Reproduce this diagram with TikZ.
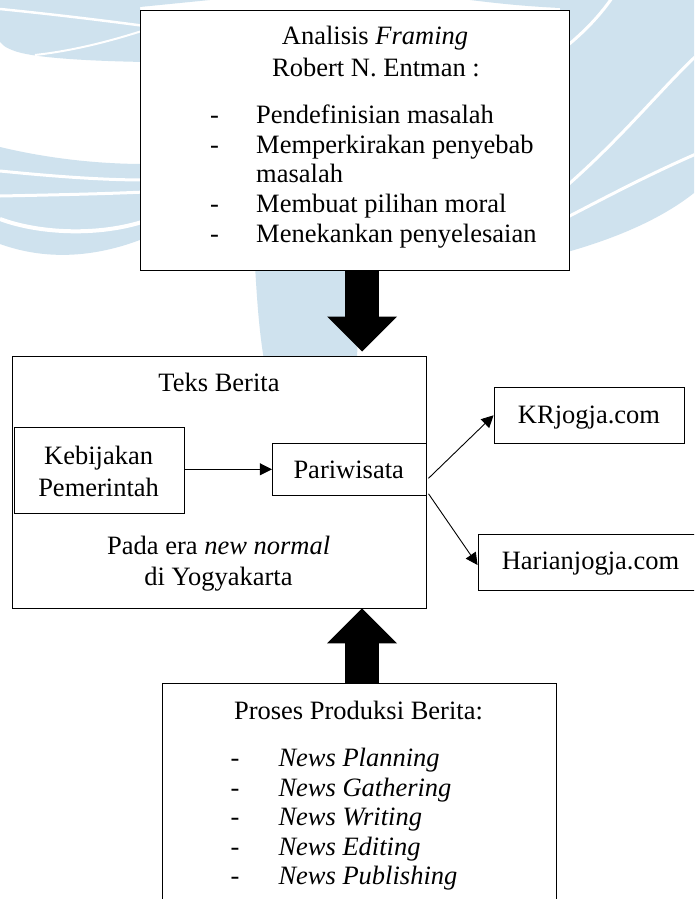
\documentclass[tikz,border=0pt]{standalone}
\usepackage{fontspec}
\setmainfont{Liberation Serif}
\usepackage{tikz}
\usetikzlibrary{arrows.meta}
\usetikzlibrary{positioning}

\definecolor{wmblue}{RGB}{207,226,238}
\newcommand{\wmleft}{%
 \fill[wmblue] (0,0) -- (210,0) .. controls (180,3) and (160,5) .. (140,7) -- (145,62) .. controls (90,61) and (30,58) .. (12,50) .. controls (5,47) .. (0,42) -- cycle;
 \draw[white,line width=2.5pt] (0,9) .. controls (50,14) and (100,20) .. (145,26);
 \draw[white,line width=2pt] (35,55) .. controls (80,50) and (120,38) .. (145,30);
 \fill[wmblue] (0,147) .. controls (50,159) and (100,164) .. (145,164) -- (145,238) .. controls (100,256) and (50,262) .. (0,244) -- cycle;
 \draw[white,line width=3pt] (0,171) .. controls (50,176) and (100,180) .. (145,180);
 \draw[white,line width=3pt] (0,196) .. controls (50,195) and (100,194) .. (145,192);
 \draw[white,line width=4pt] (0,219) .. controls (40,234) and (100,236) .. (145,221);
}
\newcommand{\wmright}{%
 \fill[wmblue] (470,0) -- (694,0) -- (694,193) .. controls (670,212) and (630,235) .. (560,254) -- (560,8) .. controls (520,6) and (495,3) .. (470,0) -- cycle;
 \draw[white,line width=3pt] (612,-2) .. controls (598,18) and (582,34) .. (562,50);
 \draw[white,line width=3pt] (696,56) .. controls (660,90) and (620,140) .. (562,190);
 \draw[white,line width=3pt] (696,154) .. controls (650,174) and (610,195) .. (562,220);
}

\begin{document}
\begin{tikzpicture}[x=1pt,y=-1pt,
 box/.style={draw=black,fill=white,line width=0.9pt,inner sep=0pt},
 txt/.style={inner sep=0pt,anchor=base,font=\fontsize{26.5}{30}\selectfont},
 itm/.style={txt,anchor=base west},
 link/.style={line width=0.9pt,-{Triangle[length=12pt,width=12pt]}},
 blockarrow/.style={line width=34pt,-{Triangle[length=35pt,width=70pt,line width=0pt]}}]
 \useasboundingbox[fill=white] (0,0) rectangle (694,899);
 \clip (0,0) rectangle (694,899);
 \wmleft
 \wmright
 \fill[wmblue] (255,265) .. controls (257,300) and (259,330) .. (264,360) -- (357,360) .. controls (358,330) and (358,300) .. (358,265) -- cycle;

 \node[box,minimum width=429pt,minimum height=260pt] (frame) at (354.5,140) {};
 \node[txt] (an1) at (375,45) {Analisis \textit{Framing}};
 \node[txt] (an2) at (376,76) {Robert N. Entman :};
 \node[txt] (d1) at (214.5,123.5) {-};
 \node[itm] (f1) at (256,123.5) {Pendefinisian masalah};
 \node[txt] (d2) at (214.5,153.2) {-};
 \node[itm] (f2) at (256,153.2) {Memperkirakan penyebab};
 \node[itm] (f2b) at (256,182.9) {masalah};
 \node[txt] (d3) at (214.5,212.6) {-};
 \node[itm] (f3) at (256,212.6) {Membuat pilihan moral};
 \node[txt] (d4) at (214.5,242.3) {-};
 \node[itm] (f4) at (256,242.3) {Menekankan penyelesaian};

 \node[box,minimum width=413.7pt,minimum height=251.5pt] (teks) at (219.2,482.2) {};
 \node[txt] (teksl) at (219,391.7) {Teks Berita};
 \node[box,minimum width=170pt,minimum height=86pt] (keb) at (99.3,470.3) {};
 \node[txt] (keb1) at (98.6,464) {Kebijakan};
 \node[txt] (keb2) at (98.6,496) {Pemerintah};
 \node[box,minimum width=153.7pt,minimum height=52pt] (pari) at (349.2,469.3) {};
 \node[txt] (paril) at (348.7,478.3) {Pariwisata};
 \node[txt] (era1) at (218.7,554) {Pada era \textit{new normal}};
 \node[txt] (era2) at (218.4,585) {di Yogyakarta};

 \node[box,minimum width=190pt,minimum height=56pt] (kr) at (589,415.3) {};
 \node[txt] (krl) at (589,423) {KRjogja.com};
 \node[box,minimum width=225pt,minimum height=56pt] (harian) at (590.5,562) {};
 \node[txt] (harianl) at (590.5,569) {Harianjogja.com};

 \node[box,minimum width=393.7pt,minimum height=240pt] (proses) at (359.2,803.5) {};
 \node[txt] (pp) at (358.5,719) {Proses Produksi Berita:};
 \node[txt] (e1) at (235,766.5) {-};
 \node[itm] (n1) at (278.3,766.5) {\textit{News Planning}};
 \node[txt] (e2) at (235,796) {-};
 \node[itm] (n2) at (278.3,796) {\textit{News Gathering}};
 \node[txt] (e3) at (235,825.5) {-};
 \node[itm] (n3) at (278.3,825.5) {\textit{News Writing}};
 \node[txt] (e4) at (235,855) {-};
 \node[itm] (n4) at (278.3,855) {\textit{News Editing}};
 \node[txt] (e5) at (235,884.5) {-};
 \node[itm] (n5) at (278.3,884.5) {\textit{News Publishing}};

 \draw[link] (keb.east |- pari.west) -- (pari.west);
 \draw[link] ([shift={(2,9)}]pari.east) -- (kr.west);
 \draw[link] ([shift={(2,-2)}]pari.south east) -- ([yshift=-3pt]harian.west);

 \coordinate (dx) at ([xshift=7.5pt]frame.south);
 \coordinate (ux) at ([xshift=2.8pt]proses.north);
 \draw[blockarrow,shorten >=4.5pt] (dx) -- (dx |- teks.north);
 \draw[blockarrow] (ux) -- (ux |- teks.south);
\end{tikzpicture}
\end{document}
